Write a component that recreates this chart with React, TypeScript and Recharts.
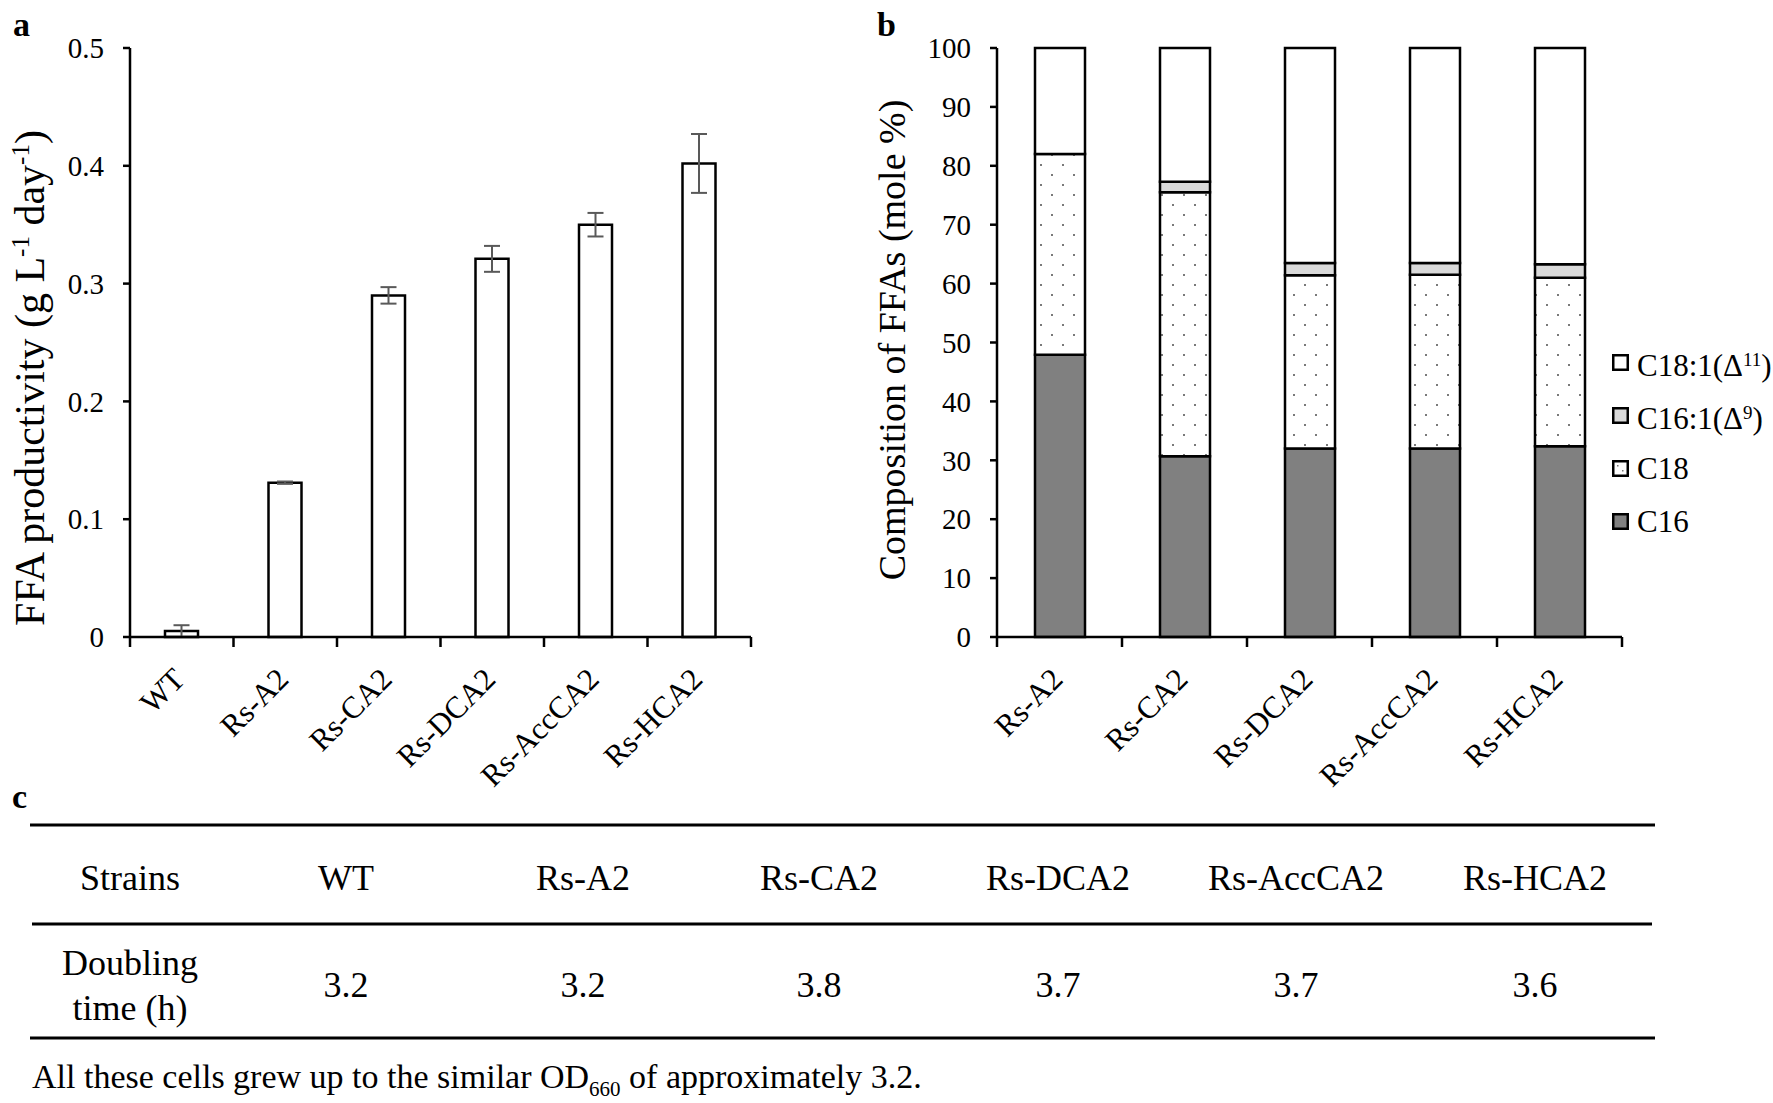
import React from "react";
import { BarChart, Bar, XAxis, YAxis, ErrorBar, Legend, Label } from "recharts";

// panel a: FFA productivity
const strainsA = ["WT", "Rs-A2", "Rs-CA2", "Rs-DCA2", "Rs-AccCA2", "Rs-HCA2"];
const productivity = [0.005, 0.131, 0.29, 0.321, 0.35, 0.402];
const productivityErr = [0.005, 0.001, 0.007, 0.011, 0.01, 0.025];
const ticksA = [0, 0.1, 0.2, 0.3, 0.4, 0.5];

// panel b: FFA composition (mole %)
const strainsB = ["Rs-A2", "Rs-CA2", "Rs-DCA2", "Rs-AccCA2", "Rs-HCA2"];
const c16 = [47.9, 30.7, 32.0, 32.0, 32.4];
const c18 = [34.1, 44.8, 29.4, 29.5, 28.6];
const c161 = [0, 1.8, 2.1, 2.0, 2.3];
const c181 = [18.0, 22.7, 36.5, 36.5, 36.7];
const ticksB = [0, 10, 20, 30, 40, 50, 60, 70, 80, 90, 100];

// panel c: doubling times
const tableStrains = ["WT", "Rs-A2", "Rs-CA2", "Rs-DCA2", "Rs-AccCA2", "Rs-HCA2"];
const doublingTime = ["3.2", "3.2", "3.8", "3.7", "3.7", "3.6"];

const FONT = '"Liberation Serif", "Times New Roman", Times, serif';

const dataA = strainsA.map((name, i) => ({
  name,
  value: productivity[i],
  err: productivityErr[i],
}));

const dataB = strainsB.map((name, i) => ({
  name,
  c16: c16[i],
  c18: c18[i],
  c161: c161[i],
  c181: c181[i],
}));

const legendItems = [
  { key: "c181", base: "C18:1(Δ", sup: "11", fill: "#ffffff" },
  { key: "c161", base: "C16:1(Δ", sup: "9", fill: "#d9d9d9" },
  { key: "c18", base: "C18", sup: "", fill: "dots" },
  { key: "c16", base: "C16", sup: "", fill: "#808080" },
];

function CategoryTick(props: any) {
  const { x, y, payload, index, band, count } = props;
  const left = x - band / 2;
  const ax = x + 5;
  const ay = y + 44;
  return (
    <g>
      <line x1={left} y1={y} x2={left} y2={y + 10} stroke="#000" strokeWidth={2.5} />
      {index === count - 1 && (
        <line x1={x + band / 2} y1={y} x2={x + band / 2} y2={y + 10} stroke="#000" strokeWidth={2.5} />
      )}
      <text
        x={ax}
        y={ay}
        textAnchor="end"
        transform={`rotate(-45 ${ax} ${ay})`}
        fontFamily={FONT}
        fontSize={31}
        fill="#000"
      >
        {payload.value}
      </text>
    </g>
  );
}

function TitleA() {
  const x = 44;
  const y = 378;
  return (
    <text x={x} y={y} transform={`rotate(-90 ${x} ${y})`} textAnchor="middle" fontFamily={FONT} fontSize={42} fill="#000">
      FFA productivity (g L
      <tspan dy={-15} fontSize={25}>-1</tspan>
      <tspan dy={15}> day</tspan>
      <tspan dy={-15} fontSize={25}>-1</tspan>
      <tspan dy={15}>)</tspan>
    </text>
  );
}

function TitleB() {
  const x = 45;
  const y = 340;
  return (
    <text x={x} y={y} transform={`rotate(-90 ${x} ${y})`} textAnchor="middle" fontFamily={FONT} fontSize={38} fill="#000">
      Composition of FFAs (mole %)
    </text>
  );
}

function Swatch({ fill }: { fill: string }) {
  return (
    <svg width={17} height={17} style={{ display: "block" }}>
      <rect x={1.25} y={1.25} width={14.5} height={14.5} fill={fill === "dots" ? "#fff" : fill} stroke="#000" strokeWidth={2.5} />
      {fill === "dots" && (
        <>
          <rect x={5} y={5} width={1.5} height={1.5} fill="#777" />
          <rect x={10} y={10} width={1.5} height={1.5} fill="#777" />
        </>
      )}
    </svg>
  );
}

function FattyLegend() {
  return (
    <div style={{ fontFamily: FONT, fontSize: 31, color: "#000", whiteSpace: "nowrap" }}>
      {legendItems.map((it) => (
        <div key={it.key} style={{ display: "flex", alignItems: "center", height: 53 }}>
          <Swatch fill={it.fill} />
          <span style={{ marginLeft: 8, lineHeight: "31px" }}>
            {it.base}
            {it.sup && (
              <>
                <sup style={{ fontSize: 19, verticalAlign: "10px" }}>{it.sup}</sup>)
              </>
            )}
          </span>
        </div>
      ))}
    </div>
  );
}

const axisLine = { stroke: "#000", strokeWidth: 2.5 };
const tickLine = { stroke: "#000", strokeWidth: 2.5 };
const yTick = { fill: "#000", fontSize: 29, fontFamily: FONT };

export default function App() {
  const colX = [346, 583, 819, 1058, 1296, 1535];
  return (
    <div style={{ position: "absolute", left: 0, top: 0, width: 1773, height: 1103, background: "#fff" }}>
      <div style={{ position: "absolute", left: 0, top: 0 }}>
        <BarChart width={800} height={800} data={dataA} margin={{ top: 48, right: 49, left: 70, bottom: 43 }}>
          <XAxis
            dataKey="name"
            height={120}
            axisLine={axisLine}
            tickLine={false}
            tickSize={0}
            tickMargin={0}
            interval={0}
            tick={<CategoryTick band={621 / 6} count={strainsA.length} />}
          />
          <YAxis
            type="number"
            width={60}
            domain={[0, 0.5]}
            ticks={ticksA}
            interval={0}
            axisLine={axisLine}
            tickLine={tickLine}
            tickSize={7}
            tickMargin={19}
            tick={yTick}
          >
            <Label content={<TitleA />} />
          </YAxis>
          <Bar dataKey="value" fill="#fff" stroke="#000" strokeWidth={2.5} barSize={33} isAnimationActive={false}>
            <ErrorBar dataKey="err" width={8} stroke="#595959" strokeWidth={2} direction="y" isAnimationActive={false} />
          </Bar>
        </BarChart>
      </div>

      <div style={{ position: "absolute", left: 860, top: 0 }}>
        <BarChart width={913} height={800} data={dataB} margin={{ top: 48, right: 151, left: 77, bottom: 43 }}>
          <defs>
            <pattern id="c18dots" width={22} height={20} patternUnits="userSpaceOnUse">
              <rect width={22} height={20} fill="#fff" />
              <rect x={4} y={4} width={2} height={2} fill="#7a7a7a" />
              <rect x={15} y={14} width={2} height={2} fill="#7a7a7a" />
            </pattern>
          </defs>
          <XAxis
            dataKey="name"
            height={120}
            axisLine={axisLine}
            tickLine={false}
            tickSize={0}
            tickMargin={0}
            interval={0}
            tick={<CategoryTick band={625 / 5} count={strainsB.length} />}
          />
          <YAxis
            type="number"
            width={60}
            domain={[0, 100]}
            ticks={ticksB}
            interval={0}
            axisLine={axisLine}
            tickLine={tickLine}
            tickSize={7}
            tickMargin={19}
            tick={yTick}
          >
            <Label content={<TitleB />} />
          </YAxis>
          <Legend
            layout="vertical"
            align="center"
            verticalAlign="middle"
            content={<FattyLegend />}
            wrapperStyle={{ left: 752, top: 336, width: "auto" }}
          />
          <Bar dataKey="c16" name="C16" stackId="s" fill="#808080" stroke="#000" strokeWidth={2.5} barSize={50} isAnimationActive={false} />
          <Bar dataKey="c18" name="C18" stackId="s" fill="url(#c18dots)" stroke="#000" strokeWidth={2.5} barSize={50} isAnimationActive={false} />
          <Bar dataKey="c161" name="C16:1(Δ9)" stackId="s" fill="#d9d9d9" stroke="#000" strokeWidth={2.5} barSize={50} isAnimationActive={false} />
          <Bar dataKey="c181" name="C18:1(Δ11)" stackId="s" fill="#fff" stroke="#000" strokeWidth={2.5} barSize={50} isAnimationActive={false} />
        </BarChart>
      </div>

      <svg
        width={1773}
        height={1103}
        style={{ position: "absolute", left: 0, top: 0, pointerEvents: "none" }}
        fontFamily={FONT}
      >
        <text x={13} y={36} fontSize={34} fontWeight="bold">a</text>
        <text x={877} y={36} fontSize={34} fontWeight="bold">b</text>
        <text x={12} y={808} fontSize={34} fontWeight="bold">c</text>

        <line x1={30} y1={825} x2={1655} y2={825} stroke="#000" strokeWidth={3} />
        <line x1={32} y1={924} x2={1652} y2={924} stroke="#000" strokeWidth={3} />
        <line x1={30} y1={1038} x2={1655} y2={1038} stroke="#000" strokeWidth={3} />

        <text x={130} y={878} fontSize={36} textAnchor="middle" dominantBaseline="central">Strains</text>
        {tableStrains.map((s, i) => (
          <text key={s} x={colX[i]} y={878} fontSize={36} textAnchor="middle" dominantBaseline="central">{s}</text>
        ))}
        <text x={130} y={963} fontSize={36} textAnchor="middle" dominantBaseline="central">Doubling</text>
        <text x={130} y={1008} fontSize={36} textAnchor="middle" dominantBaseline="central">time (h)</text>
        {doublingTime.map((v, i) => (
          <text key={i} x={colX[i]} y={985} fontSize={36} textAnchor="middle" dominantBaseline="central">{v}</text>
        ))}

        <text x={32} y={1088} fontSize={34}>
          All these cells grew up to the similar OD
          <tspan dy={8} fontSize={21}>660</tspan>
          <tspan dy={-8}> of approximately 3.2.</tspan>
        </text>
      </svg>
    </div>
  );
}
